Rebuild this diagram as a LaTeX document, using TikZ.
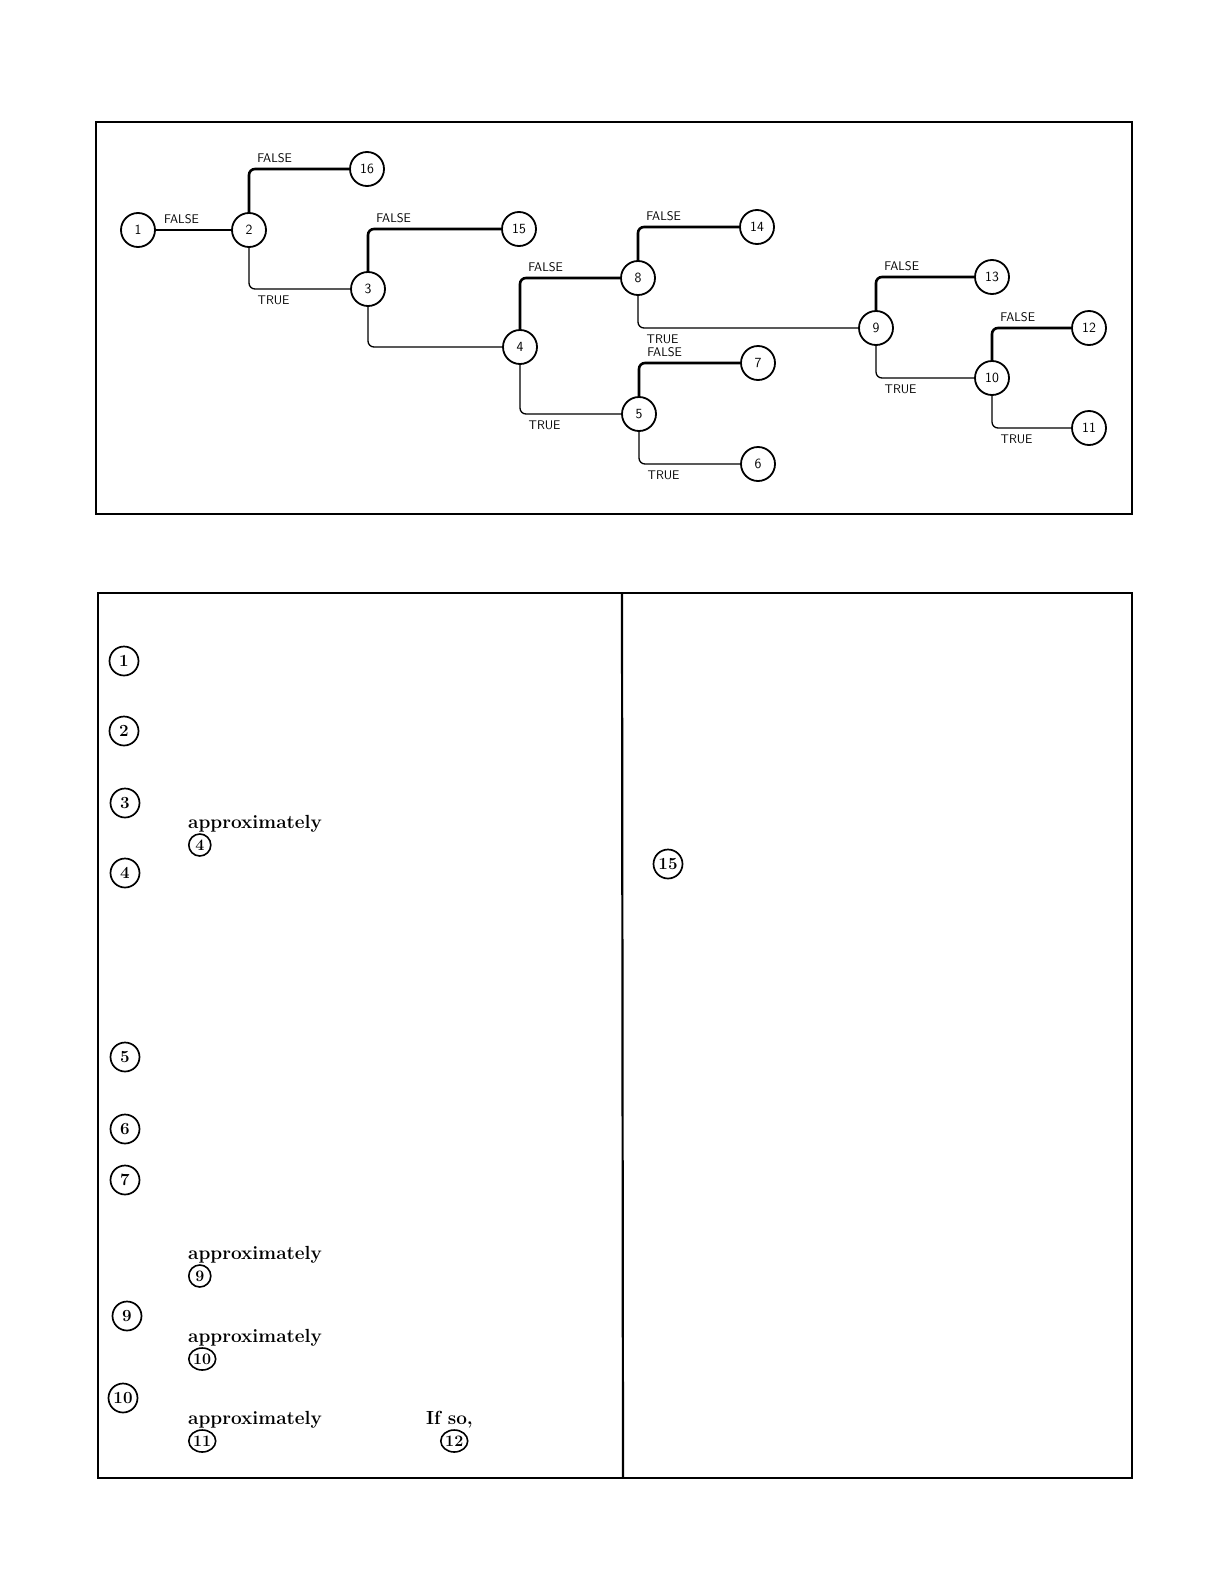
\documentclass[tikz,border=0pt]{standalone}
\usepackage{tikz}
\usetikzlibrary{shapes.geometric}
\tikzset{
  knoten/.style={circle,draw,line width=1.8pt,minimum size=34pt,inner sep=0pt,font=\sffamily\fontsize{14}{14}\selectfont},
  nein/.style={line width=2.6pt,rounded corners=6pt},
  ja/.style={line width=1.3pt,rounded corners=6pt},
  fl/.style={inner sep=0pt,anchor=south west,xshift=7pt,yshift=5pt,font=\sffamily\fontsize{12.5}{12.5}\selectfont},
  tl/.style={inner sep=0pt,anchor=north west,xshift=8pt,yshift=-6pt,font=\sffamily\fontsize{12.5}{12.5}\selectfont},
  rahmen/.style={line width=2.2pt},
  marke/.style={circle,draw,line width=1.7pt,minimum size=29pt,inner sep=0pt,font=\bfseries\fontsize{17}{17}\selectfont},
  kmarke/.style={ellipse,draw,line width=1.6pt,minimum width=22pt,minimum height=22pt,inner sep=0.5pt,font=\bfseries\fontsize{16}{16}\selectfont},
  wort/.style={inner sep=0pt,font=\bfseries\fontsize{19}{19}\selectfont},
}
\begin{document}
\begin{tikzpicture}[x=1pt,y=-1pt]
  \useasboundingbox (0,0) rectangle (1224,1584);
  % Baum
  \draw[rahmen] (96,122) rectangle (1132,514);
  \foreach \n/\x/\y in {1/138/230,2/249/230,16/367/169,3/368/289,15/519/229,4/520/347,
      8/638/278,14/757/227,5/639/414,7/758/363,6/758/464,9/876/328,13/992/277,
      10/992/378,12/1089/328,11/1089/428}
    \node[knoten] (n\n) at (\x,\y) {\n};
  \draw[nein] (n1) -- node[fl,pos=0]{FALSE} (n2);
  \foreach \a/\b in {2/16,3/15,4/8,8/14,5/7,9/13,10/12}
    \draw[nein] (n\a.north) |- node[fl]{FALSE} (n\b.west);
  \foreach \a/\b in {2/3,4/5,8/9,5/6,9/10,10/11}
    \draw[ja] (n\a.south) |- node[tl]{TRUE} (n\b.west);
  \draw[ja] (n3.south) |- (n4.west);
  % Tabelle
  \draw[rahmen] (98,593) rectangle (1132,1478);
  \draw[rahmen] (622,593) -- (623,1478);
  \foreach \n/\x/\y in {1/124/661,2/124/731,3/125/803,4/125/873,5/125/1057,
      6/125/1129,7/125/1180,9/127/1316,10/123/1398}
    \node[marke] (m\n) at (\x,\y) {\n};
  \node[marke] (m15) at (668,864) {15};
  \foreach \i/\y/\k in {a/828/4,b/1259/9,c/1342/10,d/1424/11}{
    \node[wort,anchor=base west] (t\i) at (188,\y) {approximately};
    \node[kmarke,anchor=west] (k\k) at (188,\y+17) {\k};
  }
  \node[wort,anchor=base west] (tso) at (426,1424) {If so,};
  \node[kmarke,anchor=west] (k12) at (440,1441) {12};
\end{tikzpicture}
\end{document}
